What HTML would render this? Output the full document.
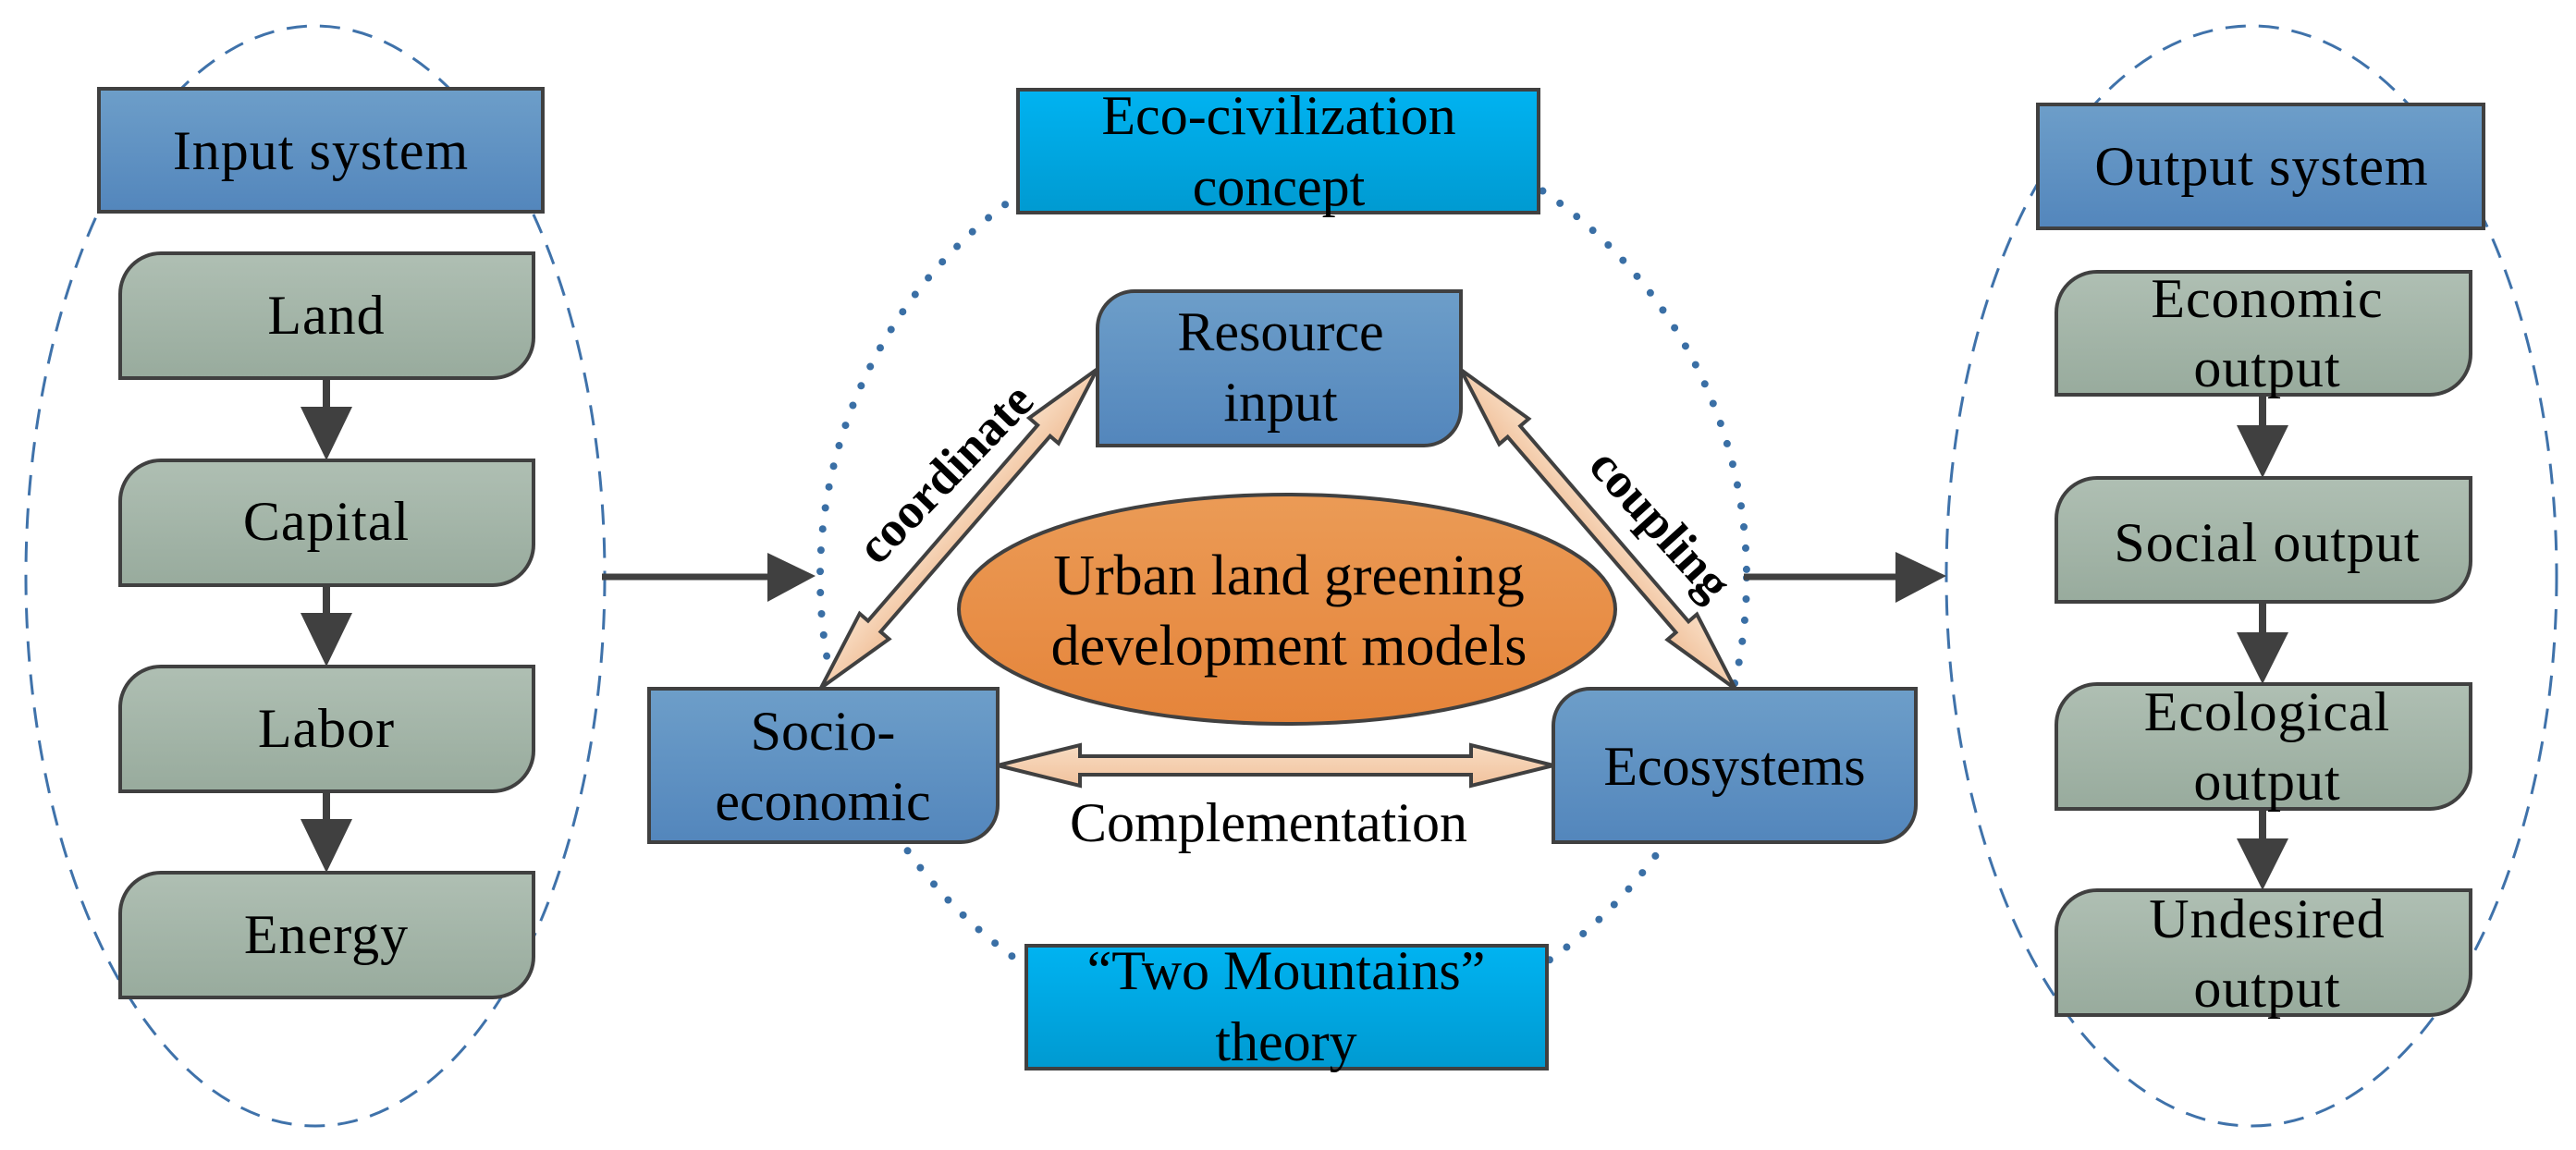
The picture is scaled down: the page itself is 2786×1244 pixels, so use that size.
<!DOCTYPE html>
<html><head><meta charset="utf-8"><style>
html,body{margin:0;padding:0;background:#fff;}
svg{display:block;}
text{font-family:"Liberation Serif",serif;fill:#000;}
</style></head><body>
<svg width="2786" height="1244" viewBox="0 0 2786 1244" xmlns="http://www.w3.org/2000/svg">
<defs>
<linearGradient id="gb" x1="0" y1="0" x2="0" y2="1"><stop offset="0" stop-color="#6d9ec9"/><stop offset="1" stop-color="#5386bc"/></linearGradient>
<linearGradient id="gg" x1="0" y1="0" x2="0" y2="1"><stop offset="0" stop-color="#afbfb3"/><stop offset="1" stop-color="#98ab9d"/></linearGradient>
<linearGradient id="gc" x1="0" y1="0" x2="0" y2="1"><stop offset="0" stop-color="#00b3f1"/><stop offset="1" stop-color="#009ad1"/></linearGradient>
<linearGradient id="go" x1="0" y1="0" x2="0" y2="1"><stop offset="0" stop-color="#eb9b56"/><stop offset="1" stop-color="#e5843a"/></linearGradient>
<linearGradient id="ga" x1="0" y1="0" x2="0" y2="1"><stop offset="0" stop-color="#f8dcc2"/><stop offset="1" stop-color="#f1c29d"/></linearGradient>
</defs>

<!-- dashed ellipses -->
<ellipse cx="341" cy="623" rx="313" ry="595" fill="none" stroke="#3f72aa" stroke-width="3" stroke-dasharray="22 14"/>
<ellipse cx="2435" cy="623" rx="330" ry="595" fill="none" stroke="#3f72aa" stroke-width="3" stroke-dasharray="22 14"/>
<!-- dotted circle -->
<ellipse cx="1388" cy="625" rx="501" ry="505" fill="none" stroke="#3a6fa5" stroke-width="8" stroke-linecap="round" stroke-dasharray="0 23"/>

<!-- Input system -->
<rect x="107" y="96" width="480" height="133" fill="url(#gb)" stroke="#404040" stroke-width="4"/>
<text x="347" y="183" font-size="60" text-anchor="middle" letter-spacing="1">Input system</text>

<g stroke="#404040" stroke-width="4" fill="url(#gg)">
<path d="M174,274 H577 V365 A44,44 0 0 1 533,409 H130 V318 A44,44 0 0 1 174,274 Z"/>
<path d="M174,498 H577 V589 A44,44 0 0 1 533,633 H130 V542 A44,44 0 0 1 174,498 Z"/>
<path d="M174,721 H577 V812 A44,44 0 0 1 533,856 H130 V765 A44,44 0 0 1 174,721 Z"/>
<path d="M174,944 H577 V1035 A44,44 0 0 1 533,1079 H130 V988 A44,44 0 0 1 174,944 Z"/>
</g>
<g font-size="60" text-anchor="middle" letter-spacing="1">
<text x="353" y="361">Land</text>
<text x="353" y="584">Capital</text>
<text x="353" y="808">Labor</text>
<text x="353" y="1031">Energy</text>
</g>
<g fill="#404040" stroke="#404040">
<line x1="353" y1="409" x2="353" y2="450" stroke-width="8"/>
<polygon points="325,440 381,440 353,498" stroke="none"/>
<line x1="353" y1="633" x2="353" y2="673" stroke-width="8"/>
<polygon points="325,663 381,663 353,721" stroke="none"/>
<line x1="353" y1="856" x2="353" y2="896" stroke-width="8"/>
<polygon points="325,886 381,886 353,944" stroke="none"/>
</g>

<!-- Output system -->
<rect x="2204" y="113" width="482" height="134" fill="url(#gb)" stroke="#404040" stroke-width="4"/>
<text x="2446" y="200" font-size="60" text-anchor="middle" letter-spacing="1">Output system</text>
<g stroke="#404040" stroke-width="4" fill="url(#gg)">
<path d="M2268,294 H2672 V383 A44,44 0 0 1 2628,427 H2224 V338 A44,44 0 0 1 2268,294 Z"/>
<path d="M2268,517 H2672 V607 A44,44 0 0 1 2628,651 H2224 V561 A44,44 0 0 1 2268,517 Z"/>
<path d="M2268,740 H2672 V831 A44,44 0 0 1 2628,875 H2224 V784 A44,44 0 0 1 2268,740 Z"/>
<path d="M2268,963 H2672 V1054 A44,44 0 0 1 2628,1098 H2224 V1007 A44,44 0 0 1 2268,963 Z"/>
</g>
<g font-size="60" text-anchor="middle" letter-spacing="1">
<text x="2452" y="343">Economic</text>
<text x="2452" y="418">output</text>
<text x="2452" y="607">Social output</text>
<text x="2452" y="790">Ecological</text>
<text x="2452" y="865">output</text>
<text x="2452" y="1014">Undesired</text>
<text x="2452" y="1089">output</text>
</g>
<g fill="#404040" stroke="#404040">
<line x1="2447" y1="427" x2="2447" y2="470" stroke-width="8"/>
<polygon points="2419,460 2475,460 2447,517" stroke="none"/>
<line x1="2447" y1="651" x2="2447" y2="694" stroke-width="8"/>
<polygon points="2419,684 2475,684 2447,740" stroke="none"/>
<line x1="2447" y1="875" x2="2447" y2="917" stroke-width="8"/>
<polygon points="2419,907 2475,907 2447,963" stroke="none"/>
</g>

<!-- horizontal arrows -->
<g fill="#404040" stroke="#404040">
<line x1="651" y1="624" x2="850" y2="624" stroke-width="7"/>
<polygon points="830,598 882,623 830,651" stroke="none"/>
<line x1="1886" y1="624" x2="2070" y2="624" stroke-width="7"/>
<polygon points="2050,597 2105,623 2050,652" stroke="none"/>
</g>

<!-- Eco-civilization -->
<rect x="1101" y="97" width="563" height="133" fill="url(#gc)" stroke="#404040" stroke-width="4"/>
<g font-size="60" text-anchor="middle">
<text x="1383" y="145">Eco-civilization</text>
<text x="1383" y="222">concept</text>
</g>
<!-- Two mountains -->
<rect x="1110" y="1023" width="563" height="133" fill="url(#gc)" stroke="#404040" stroke-width="4"/>
<g font-size="60" text-anchor="middle">
<text x="1391" y="1070">“Two Mountains”</text>
<text x="1391" y="1147">theory</text>
</g>

<!-- Resource input -->
<path d="M1227,315 H1580 V442 A40,40 0 0 1 1540,482 H1187 V355 A40,40 0 0 1 1227,315 Z" fill="url(#gb)" stroke="#404040" stroke-width="4"/>
<g font-size="60" text-anchor="middle">
<text x="1385" y="379">Resource</text>
<text x="1385" y="455">input</text>
</g>
<!-- Socio-economic -->
<path d="M702,745 H1079 V871 A40,40 0 0 1 1039,911 H702 Z" fill="url(#gb)" stroke="#404040" stroke-width="4"/>
<g font-size="60" text-anchor="middle">
<text x="890" y="811">Socio-</text>
<text x="890" y="887">economic</text>
</g>
<!-- Ecosystems -->
<path d="M1720,745 H2072 V871 A40,40 0 0 1 2032,911 H1680 V785 A40,40 0 0 1 1720,745 Z" fill="url(#gb)" stroke="#404040" stroke-width="4"/>
<text x="1876" y="849" font-size="60" text-anchor="middle">Ecosystems</text>

<!-- Central ellipse -->
<ellipse cx="1392" cy="659" rx="355" ry="124" fill="url(#go)" stroke="#404040" stroke-width="4"/>
<g font-size="62" text-anchor="middle">
<text x="1394" y="643">Urban land greening</text>
<text x="1394" y="719">development models</text>
</g>

<!-- double arrows -->
<g fill="url(#ga)" stroke="#404040" stroke-width="4" stroke-linejoin="miter">
<polygon points="1079,828 1168,806 1168,818 1591,818 1591,806 1680,828 1591,850 1591,838 1168,838 1168,850"/>
<g transform="translate(888,744) rotate(-49.1)">
<polygon points="0,0 88,-21 88,-9 368,-9 368,-21 456,0 368,21 368,9 88,9 88,21"/>
</g>
<g transform="translate(1580,400) rotate(49.3)">
<polygon points="0,0 88,-21 88,-9 367,-9 367,-21 455,0 367,21 367,9 88,9 88,21"/>
</g>
</g>
<text x="1372" y="910" font-size="60" text-anchor="middle">Complementation</text>
<text transform="translate(1022,512) rotate(-46)" font-size="54" font-weight="bold" text-anchor="middle" y="18">coordinate</text>
<text transform="translate(1796,567) rotate(48)" font-size="54" font-weight="bold" text-anchor="middle" y="18">coupling</text>
</svg>
</body></html>
